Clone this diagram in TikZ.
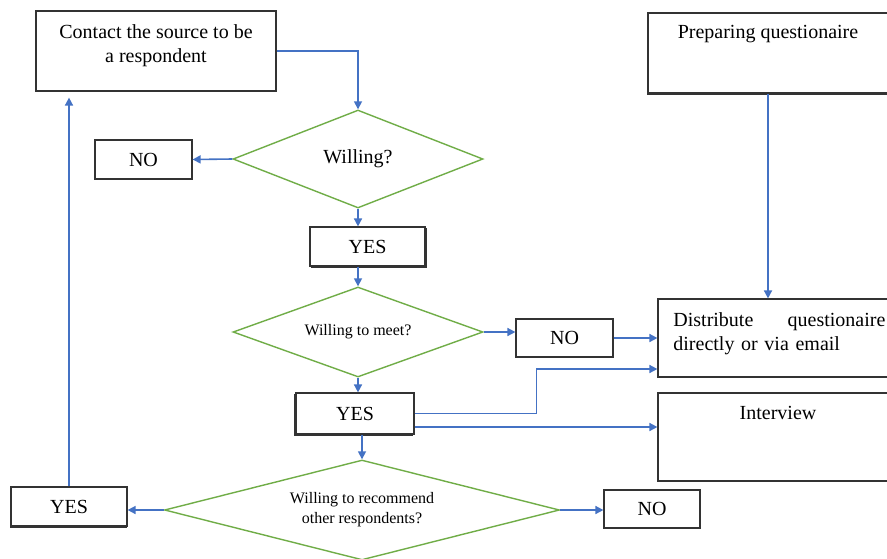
\documentclass[tikz,border=0pt]{standalone}
\usepackage{fontspec}
\setmainfont{Liberation Serif}
\usetikzlibrary{shapes.geometric,arrows.meta,shadows}
\definecolor{flowblue}{HTML}{4472C4}
\definecolor{flowgreen}{HTML}{70AD47}
\tikzset{
    box/.style={draw=black!80,line width=0.6pt,fill=white,inner sep=0pt},
    boxshadow/.style={copy shadow={shadow xshift=#1,shadow yshift=-0.9pt,draw=black!80,fill=white}},
    ask/.style={diamond,draw=flowgreen,line width=0.7pt,inner sep=0pt,align=center},
    flow/.style={draw=flowblue,line width=0.8pt,-{Triangle[length=4pt,width=4pt]}},
    small/.style={font=\fontsize{8}{10}\selectfont}
}
\begin{document}
\begin{tikzpicture}[x=0.5pt,y=-0.5pt,font=\fontsize{10}{12}\selectfont]
        \clip (0,0) rectangle (887,558);
        \fill[white] (0,0) rectangle (887,558);

        % left column
        \node[box,minimum width=120pt,minimum height=40pt] (contact) at (156,51){};
        \node[align=center] (contactText) at (156,46){Contact the source to be\\a respondent};
        \node[ask,aspect=2.55,minimum width=125pt,minimum height=49pt] (willing) at (358,159){Willing?};
        \node[box,minimum width=48.5pt,minimum height=19.5pt] (no1) at (143.5,159.5){NO};
        \node[box,boxshadow=0.8pt,minimum width=57.5pt,minimum height=19.5pt] (yes1) at (367.5,246.5){YES};
        \node[ask,small,aspect=2.78,minimum width=125pt,minimum height=45pt] (meet) at (358,332){Willing to meet?};
        \node[box,minimum width=48.5pt,minimum height=19pt] (no2) at (564.5,338){NO};
        \node[box,boxshadow=-0.9pt,minimum width=59pt,minimum height=20.5pt] (yes2) at (355,413.5){YES};
        \node[ask,small,aspect=3.95,minimum width=197.5pt,minimum height=50pt] (recommend) at (362,510){Willing to recommend\\other respondents?};
        \node[box,boxshadow=-0.4pt,minimum width=58pt,minimum height=19.5pt] (yes3) at (69,506.5){YES};
        \node[box,minimum width=48pt,minimum height=19pt] (no3) at (652,509){NO};

        % right column
        \node[box,boxshadow=-0.4pt,minimum width=126pt,minimum height=40pt] (prep) at (774,53){};
        \node (prepText) at (768,34){Preparing questionaire};
        \node[box,minimum width=121pt,minimum height=39pt] (dist) at (779,338){};
        \node[align=left,text width=106pt,anchor=north west,inner sep=0pt] (distText) at (673,312){Distribute\hfill questionaire\\directly or via email};
        \node[box,minimum width=121pt,minimum height=44pt] (interview) at (779,437){};
        \node (interviewText) at (778,413){Interview};

        \draw[flow] (contact.east) -| (willing.north);
        \draw[flow] (willing.west) -- (no1.east);
        \draw[flow] (willing.south) -- (willing.south |- yes1.north);
        \draw[flow] (meet.north |- yes1.south) -- (meet.north);
        \draw[flow] (meet.east) -- (meet.east -| no2.west);
        \draw[flow] (no2.east) -- (no2.east -| dist.west);
        \draw[flow] (meet.south) -- (meet.south |- yes2.north);
        \draw[flow] (yes2.east) -- ++(122,0) |- ([yshift=-15.5pt]dist.west);
        \draw[flow] ([yshift=-6.75pt]yes2.east) -- ([yshift=-6.75pt]yes2.east -| interview.west);
        \draw[flow] (recommend.north |- yes2.south) -- (recommend.north);
        \draw[flow] (recommend.west) -- (recommend.west -| yes3.east);
        \draw[flow] (recommend.east) -- (recommend.east -| no3.west);
        \draw[flow,shorten >=3pt] (yes3.north) -- (yes3.north |- contact.south);
        \draw[flow] ([xshift=-3pt]prep.south) -- ([xshift=-3pt]prep.south |- dist.north);
    \end{tikzpicture}
\end{document}
